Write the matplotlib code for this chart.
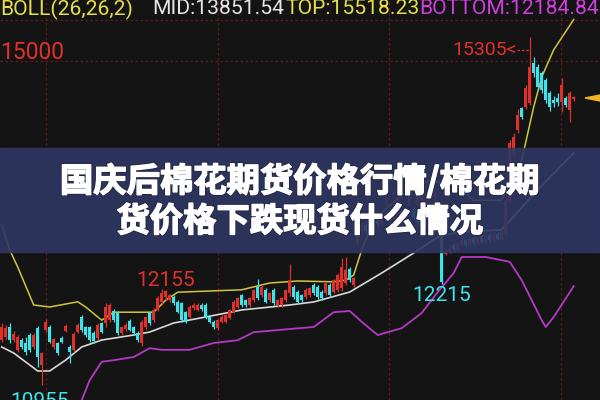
import matplotlib
matplotlib.use("Agg")
import matplotlib.pyplot as plt
import matplotlib.patheffects as pe
from matplotlib.patches import Rectangle
import numpy as np

# candle data (open, high, low, close), one value per bar
opens = [11512, 11554, 11670, 11512, 11387, 11512, 11470, 11575, 11429, 11658,
         11200, 11637, 11670, 11429, 11470, 11541, 11629, 11429, 11387, 11616,
         11804, 11670, 11670, 11596, 11533, 11721, 11721, 11762, 11879, 11854,
         11596, 11645, 11754, 11670, 11604, 11470, 11670, 11845, 11762, 11887,
         11991, 12050, 12012, 12054, 11991, 11970, 11866, 11804, 11908, 11887,
         11950, 11950, 11804, 11741, 11658, 11741, 11741, 11783, 11866, 11929,
         12075, 12012, 11950, 12012, 12179, 12075, 12137, 12012, 12137, 11950,
         11950, 12012, 12096, 12179, 12117, 12075, 12054, 12075, 12200, 12179,
         12117, 12096, 12200, 12117, 12137, 12158, 12221, 12396, 12200, 12700,
         12880, 12950, 12870, 12990, 13060, 12960, 13040, 13100, 13020, 13080,
         13130, 13060, 13110, 13150, 13050, 12980, 13030, 12950, 12900, 12960,
         12900, 12590, 12620, 12700, 12650, 12700, 12760, 12700, 12790, 12720,
         12810, 12740, 12830, 12760, 12840, 12780, 12850, 13250, 13846, 14138,
         14408, 14429, 14471, 14971, 14929, 14846, 14762, 14596, 14512, 14533,
         14492, 14533, 14387, 14520]
highs = [11720, 11700, 11720, 11620, 11580, 11540, 11554, 11600, 11600, 11687,
         11360, 11770, 11700, 11540, 11490, 11560, 11710, 11450, 11610, 11720,
         11825, 11690, 11690, 11620, 11720, 11740, 11979, 11980, 11900, 11870,
         11690, 11720, 11770, 11690, 11620, 11760, 11810, 11870, 11910, 12060,
         12155, 12140, 12090, 12080, 12010, 11990, 11880, 11950, 11970, 11975,
         11970, 11970, 11820, 11760, 11780, 11820, 11840, 11900, 12010, 12050,
         12090, 12030, 12050, 12150, 12270, 12200, 12160, 12110, 12160, 12030,
         12050, 12150, 12460, 12200, 12140, 12090, 12160, 12180, 12220, 12200,
         12140, 12240, 12220, 12280, 12350, 12533, 12554, 12420, 12300, 12920,
         12990, 12980, 13030, 13090, 13080, 13080, 13130, 13120, 13110, 13160,
         13150, 13150, 13180, 13170, 13070, 13060, 13050, 12980, 12990, 12980,
         12920, 12660, 12700, 12720, 12740, 12780, 12780, 12800, 12810, 12820,
         12830, 12840, 12850, 12860, 12860, 12880, 13280, 14010, 14100, 14400,
         14430, 14700, 15305, 15050, 14960, 14870, 14790, 14620, 14560, 14600,
         14783, 14560, 14620, 14560]
lows = [11490, 11530, 11470, 11490, 11360, 11400, 11325, 11360, 11400, 11179,
        10955, 11610, 11470, 11400, 11320, 11470, 11610, 11220, 11360, 11600,
        11616, 11550, 11490, 11480, 11510, 11600, 11670, 11740, 11740, 11570,
        11570, 11630, 11620, 11580, 11490, 11440, 11650, 11700, 11740, 11870,
        11950, 12010, 11990, 11950, 11850, 11740, 11720, 11790, 11890, 11870,
        11880, 11770, 11720, 11650, 11640, 11720, 11720, 11770, 11850, 11910,
        11930, 11930, 11930, 11990, 12010, 12050, 11970, 11990, 11950, 11930,
        11930, 11990, 12060, 12030, 11960, 11990, 12030, 12050, 12070, 12030,
        12010, 12070, 12050, 12100, 12110, 12130, 12200, 12240, 12180, 12660,
        12850, 12840, 12850, 12960, 12930, 12940, 13010, 12990, 13000, 13060,
        13030, 13040, 13090, 13020, 12950, 12960, 12920, 12870, 12880, 12850,
        12215, 12570, 12600, 12630, 12630, 12680, 12680, 12680, 12700, 12700,
        12720, 12720, 12740, 12740, 12760, 12760, 12830, 13230, 13800, 14100,
        14280, 14400, 14450, 14800, 14650, 14600, 14480, 14380, 14420, 14440,
        14367, 14420, 14242, 14500]
closes = [11679, 11658, 11512, 11587, 11554, 11429, 11367, 11387, 11575, 11304,
          11345, 11741, 11491, 11520, 11345, 11491, 11687, 11366, 11587, 11700,
          11637, 11575, 11512, 11504, 11700, 11616, 11929, 11950, 11762, 11596,
          11670, 11700, 11637, 11596, 11512, 11741, 11796, 11721, 11887, 12033,
          12100, 12120, 12075, 11970, 11866, 11762, 11741, 11929, 11950, 11950,
          11900, 11783, 11741, 11670, 11762, 11804, 11825, 11887, 11991, 12033,
          11950, 11950, 12033, 12137, 12033, 12179, 11991, 12095, 11970, 12012,
          12033, 12137, 12262, 12054, 11991, 12012, 12137, 12158, 12096, 12054,
          12033, 12221, 12075, 12262, 12325, 12429, 12387, 12262, 12283, 12880,
          12950, 12870, 13000, 13060, 12960, 13050, 13100, 13020, 13090, 13130,
          13060, 13120, 13150, 13050, 12980, 13030, 12950, 12900, 12960, 12880,
          12240, 12630, 12660, 12650, 12720, 12760, 12700, 12780, 12720, 12800,
          12740, 12820, 12760, 12840, 12780, 12860, 13250, 13970, 14054, 14325,
          14304, 14658, 14929, 14846, 14679, 14637, 14512, 14429, 14471, 14492,
          14700, 14450, 14596, 14545]

# BOLL(26,26,2) lines, read at a few bars
mid_idx = [0, 3, 9, 12, 16, 20, 25, 33, 37, 43, 51, 60, 72, 78, 87, 95, 103,
           109, 114, 125, 134, 143]
mid_vals = [11425, 11350, 11125, 11125, 11262, 11425, 11512, 11575, 11612,
            11725, 11800, 11888, 11950, 11988, 12112, 12350, 12600, 12800,
            12860, 12890, 13390, 13850]
top_idx = [0, 2, 4, 8, 12, 19, 21, 25, 28, 38, 41, 44, 60, 67, 74, 83, 86, 88,
           90, 93, 100, 107, 114, 118, 125, 128, 130, 133, 135, 138, 143]
top_vals = [12950, 12640, 12425, 11950, 11925, 11990, 11925, 11760, 11860,
            11860, 12010, 12110, 12140, 12225, 12250, 12240, 12260, 12325,
            12640, 13010, 13325, 13510, 13425, 13260, 13260, 13600, 13760,
            14425, 14800, 15140, 15518]
bot_idx = [18, 20, 22, 25, 28, 33, 37, 40, 47, 53, 59, 63, 72, 78, 83, 87, 90,
           94, 100, 105, 109, 113, 115, 121, 127, 130, 135, 136, 138, 143]
bot_vals = [10500, 10760, 11010, 11240, 11260, 11300, 11410, 11390, 11390,
            11475, 11510, 11610, 11650, 11675, 11860, 11875, 11740, 11575,
            11660, 11850, 12110, 12350, 12550, 12550, 12490, 12260, 11760,
            11675, 11800, 12185]

header_parts = ["BOLL(26,26,2)", "MID:13851.54", "TOP:15518.23", "BOTTOM:12184.84"]
title_lines = ["国庆后棉花期货价格行情/棉花期", "货价格下跌现货什么情况"]

BG = "#141414"
RED = "#e0302c"
CYAN = "#3fe3ea"
YELLOW = "#cfc63e"
WHITE = "#d9d9d9"
MAGENTA = "#b43ac6"
GRID = "#5e1c1c"
NUM = ["Roboto", "DejaVu Sans"]

fig = plt.figure(figsize=(6, 4), dpi=100)
fig.patch.set_facecolor(BG)
ax = fig.add_axes([0, 0, 1, 1])
ax.set_xlim(-0.425, 149.575)
ax.set_ylim(10762.5, 15762.5)
ax.axis("off")

# dotted red grid
for gx in [11.1, 54.1, 96.8, 139.8]:
    ax.axvline(gx, color=GRID, lw=0.9, ls=(0, (2, 2)), zorder=1)
for gy in [15000, 15512]:
    ax.axhline(gy, color=GRID, lw=0.9, ls=(0, (2, 2)), zorder=1)

o = np.array(opens)
h = np.array(highs)
l = np.array(lows)
c = np.array(closes)
x = np.arange(len(o))
up = c >= o
cols = np.where(up, RED, CYAN)

ax.vlines(x, l, h, colors=cols, lw=0.9, zorder=3)
ax.bar(x, np.maximum(np.abs(c - o), 8), bottom=np.minimum(o, c), width=0.75,
       color=cols, zorder=3)

ax.plot(top_idx, top_vals, color=YELLOW, lw=1.1, zorder=2)
ax.plot(mid_idx, mid_vals, color=WHITE, lw=1.2, zorder=2)
ax.plot(bot_idx, bot_vals, color=MAGENTA, lw=1.3, zorder=2)

# price labels
ax.text(-0.3, 15030, "15000", color=RED, fontsize=16.5, family=NUM,
        ha="left", va="baseline")
ax.text(128.7, 15137, "15305<", color=RED, fontsize=14, family=NUM,
        ha="right", va="center")
ax.plot([128.7, 132], [15137, 15137], color=RED, lw=0.9, ls=(0, (2, 1.5)))
ax.text(41, 12262, "12155", color=RED, fontsize=15, family=NUM,
        ha="center", va="center")
ax.text(110, 12075, "12215", color=CYAN, fontsize=15, family=NUM,
        ha="center", va="center")
ax.text(9.6, 10745, "10955", color=CYAN, fontsize=15, family=NUM,
        ha="center", va="center", clip_on=False)
ax.text(101.8, 13262, "13180", color=RED, fontsize=15, family=NUM,
        ha="center", va="center")

# current price pointer at the right edge
ax.fill([585 / 600, 1.0, 1.0], [1 - 98 / 400, 1 - 95 / 400, 1 - 101 / 400],
        color="#f4b224", transform=ax.transAxes, zorder=4)

# header line
for txt, px, col in zip(header_parts, [0, 152, 285, 419],
                        ["#e6de4c", "#e6e6e6", "#e6de4c", "#d03ee0"]):
    fig.text(px / 600, 1 - 9 / 400, txt, color=col, fontsize=15.2, family=NUM,
             ha="left", va="center")

# title banner
ax.add_patch(Rectangle((0, 1 - 252 / 400), 1, 104 / 400, transform=ax.transAxes,
                       color="#2e3763", alpha=0.9, zorder=5))
for txt, py in zip(title_lines, [181, 222]):
    t = fig.text(0.5, 1 - py / 400, txt, color="white", fontsize=24,
                 weight="bold", family=["Noto Sans CJK SC", "DejaVu Sans"],
                 ha="center", va="center", zorder=6)
    t.set_path_effects([pe.withStroke(linewidth=2.2, foreground="#1e2440"),
                        pe.withStroke(linewidth=1.1, foreground="white")])

fig.savefig("out.png", dpi=100, facecolor=BG)
